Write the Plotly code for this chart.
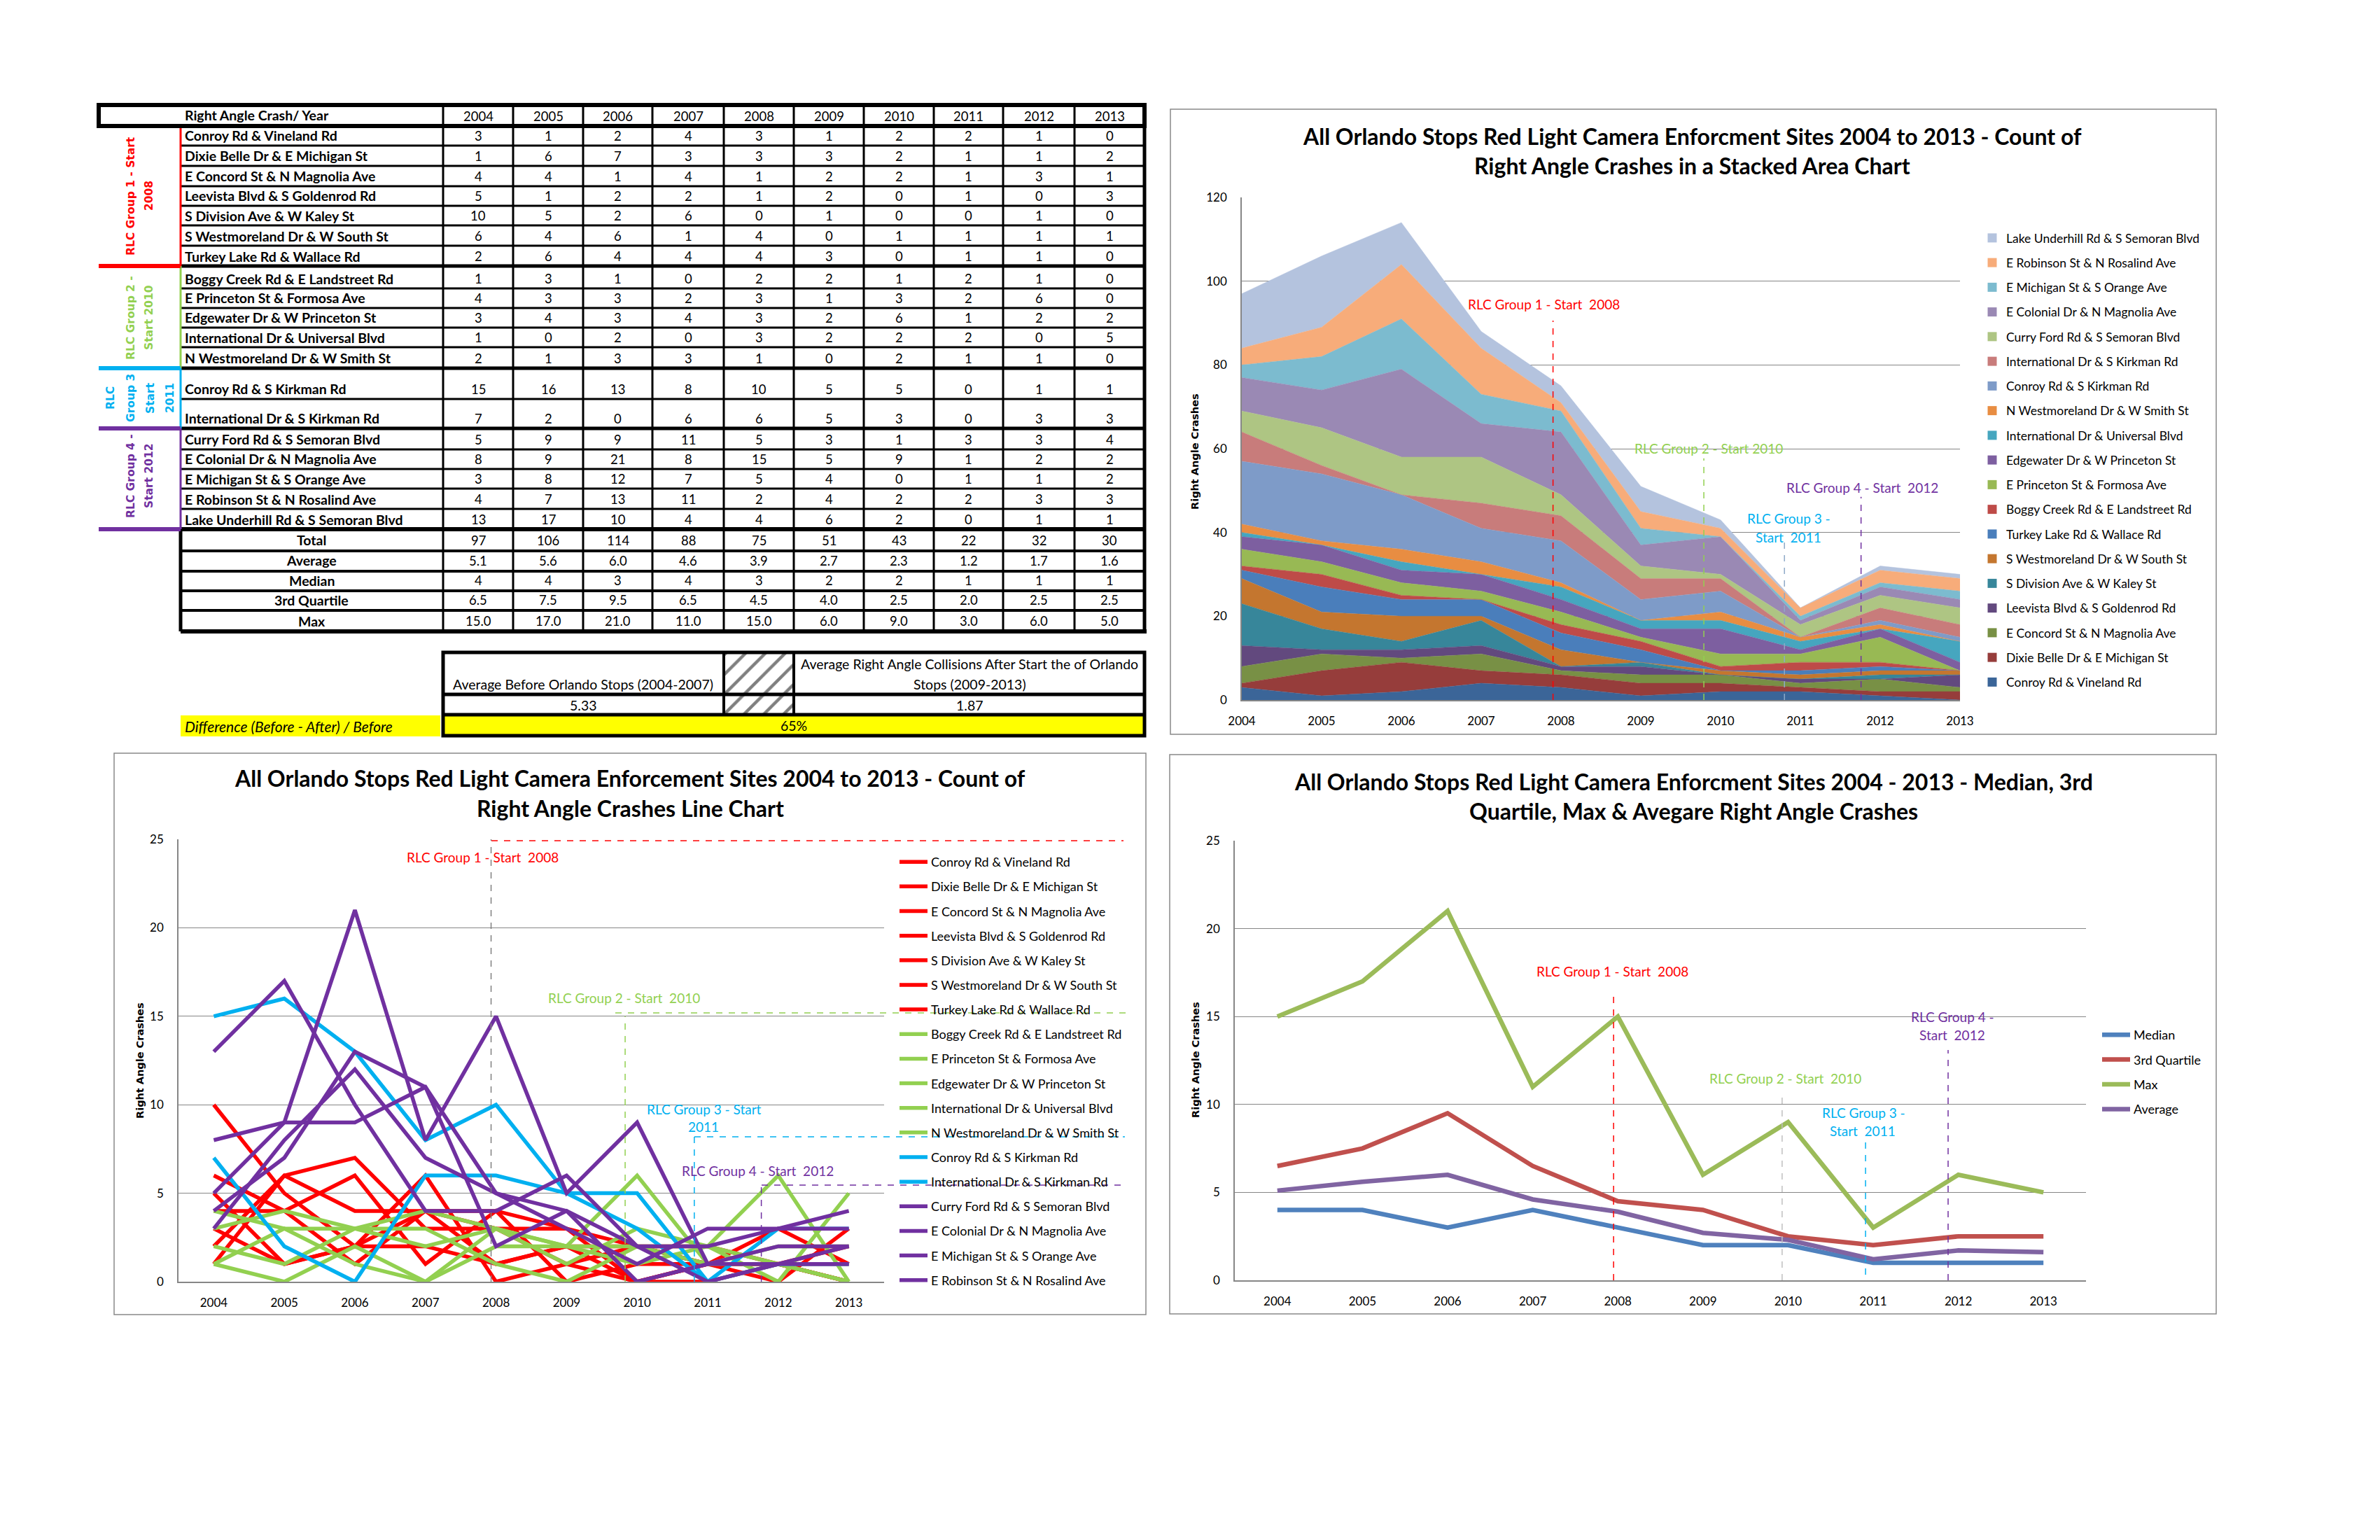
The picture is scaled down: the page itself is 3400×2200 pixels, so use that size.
import plotly.graph_objects as go

W, H = 3400, 2200

# ---------------- data ----------------
years = [2004, 2005, 2006, 2007, 2008, 2009, 2010, 2011, 2012, 2013]

conroy_vineland = [3, 1, 2, 4, 3, 1, 2, 2, 1, 0]
dixie_belle_michigan = [1, 6, 7, 3, 3, 3, 2, 1, 1, 2]
concord_magnolia = [4, 4, 1, 4, 1, 2, 2, 1, 3, 1]
leevista_goldenrod = [5, 1, 2, 2, 1, 2, 0, 1, 0, 3]
division_kaley = [10, 5, 2, 6, 0, 1, 0, 0, 1, 0]
s_westmoreland_south = [6, 4, 6, 1, 4, 0, 1, 1, 1, 1]
turkey_lake_wallace = [2, 6, 4, 4, 4, 3, 0, 1, 1, 0]
boggy_creek_landstreet = [1, 3, 1, 0, 2, 2, 1, 2, 1, 0]
princeton_formosa = [4, 3, 3, 2, 3, 1, 3, 2, 6, 0]
edgewater_princeton = [3, 4, 3, 4, 3, 2, 6, 1, 2, 2]
intl_universal = [1, 0, 2, 0, 3, 2, 2, 2, 0, 5]
n_westmoreland_smith = [2, 1, 3, 3, 1, 0, 2, 1, 1, 0]
conroy_kirkman = [15, 16, 13, 8, 10, 5, 5, 0, 1, 1]
intl_kirkman = [7, 2, 0, 6, 6, 5, 3, 0, 3, 3]
curry_ford_semoran = [5, 9, 9, 11, 5, 3, 1, 3, 3, 4]
colonial_magnolia = [8, 9, 21, 8, 15, 5, 9, 1, 2, 2]
michigan_orange = [3, 8, 12, 7, 5, 4, 0, 1, 1, 2]
robinson_rosalind = [4, 7, 13, 11, 2, 4, 2, 2, 3, 3]
lake_underhill_semoran = [13, 17, 10, 4, 4, 6, 2, 0, 1, 1]

site_names = [
    "Conroy Rd & Vineland Rd", "Dixie Belle Dr & E Michigan St", "E Concord St & N Magnolia Ave",
    "Leevista Blvd & S Goldenrod Rd", "S Division Ave & W Kaley St", "S Westmoreland Dr & W South St",
    "Turkey Lake Rd & Wallace Rd", "Boggy Creek Rd & E Landstreet Rd", "E Princeton St & Formosa Ave",
    "Edgewater Dr & W Princeton St", "International Dr & Universal Blvd", "N Westmoreland Dr & W Smith St",
    "Conroy Rd & S Kirkman Rd", "International Dr & S Kirkman Rd", "Curry Ford Rd & S Semoran Blvd",
    "E Colonial Dr & N Magnolia Ave", "E Michigan St & S Orange Ave", "E Robinson St & N Rosalind Ave",
    "Lake Underhill Rd & S Semoran Blvd",
]
site_values = [
    conroy_vineland, dixie_belle_michigan, concord_magnolia, leevista_goldenrod, division_kaley,
    s_westmoreland_south, turkey_lake_wallace, boggy_creek_landstreet, princeton_formosa,
    edgewater_princeton, intl_universal, n_westmoreland_smith, conroy_kirkman, intl_kirkman,
    curry_ford_semoran, colonial_magnolia, michigan_orange, robinson_rosalind, lake_underhill_semoran,
]
site_groups = [1] * 7 + [2] * 5 + [3] * 2 + [4] * 5

total_row = ["97", "106", "114", "88", "75", "51", "43", "22", "32", "30"]
average_row = ["5.1", "5.6", "6.0", "4.6", "3.9", "2.7", "2.3", "1.2", "1.7", "1.6"]
median_row = ["4", "4", "3", "4", "3", "2", "2", "1", "1", "1"]
q3_row = ["6.5", "7.5", "9.5", "6.5", "4.5", "4.0", "2.5", "2.0", "2.5", "2.5"]
max_row = ["15.0", "17.0", "21.0", "11.0", "15.0", "6.0", "9.0", "3.0", "6.0", "5.0"]
stat_labels = ["Total", "Average", "Median", "3rd Quartile", "Max"]
stat_rows = [total_row, average_row, median_row, q3_row, max_row]

before_label = "Average Before Orlando Stops (2004-2007)"
before_value = "5.33"
after_label = ["Average Right Angle Collisions After Start the of Orlando", "Stops (2009-2013)"]
after_value = "1.87"
difference_label = "Difference (Before - After) / Before"
difference_value = "65%"

group_label_lines = {
    1: ["RLC Group 1 - Start", "2008"],
    2: ["RLC Group 2 -", "Start 2010"],
    3: ["RLC", "Group 3", "Start", "2011"],
    4: ["RLC Group 4 -", "Start 2012"],
}
group_colors = {1: "#FF0000", 2: "#92D050", 3: "#00B0F0", 4: "#7030A0"}
area_colors = [
    "#3B6598", "#963D3B", "#789045", "#62497E", "#37869A", "#C4762F",
    "#4A7EBB", "#BE4B48", "#98B954", "#7D5FA0", "#46A6BF", "#E88D42",
    "#7E9BC8", "#C87C7B", "#AEC583", "#9A89B4", "#7CBBCF", "#F7AC7A", "#B4C3DE",
]
stat_series = [("Median", median_row, "#4F81BD"), ("3rd Quartile", q3_row, "#C0504D"),
               ("Max", max_row, "#9BBB59"), ("Average", average_row, "#8064A2")]

# ---------------- helpers ----------------
def px(x):
    return x / W

def py(y):
    return 1 - y / H

FONT = "Lato, Carlito, Calibri, sans-serif"
VFONT = "DejaVu Sans, Verdana, sans-serif"
GRID = "#868686"

fig = go.Figure()
shapes = []
ann = []

def hline(x0, x1, y, color="black", width=3, dash=None):
    shapes.append(dict(type="line", xref="paper", yref="paper", x0=px(x0), x1=px(x1), y0=py(y), y1=py(y),
                       line=dict(color=color, width=width, dash=dash)))

def vline(x, y0, y1, color="black", width=3, dash=None):
    shapes.append(dict(type="line", xref="paper", yref="paper", x0=px(x), x1=px(x), y0=py(y0), y1=py(y1),
                       line=dict(color=color, width=width, dash=dash)))

def rect(x0, y0, x1, y1, line="black", width=3, fill=None):
    shapes.append(dict(type="rect", xref="paper", yref="paper", x0=px(x0), x1=px(x1), y0=py(y1), y1=py(y0),
                       line=dict(color=line, width=width), fillcolor=fill))

def text(x, y, s, size=18, color="black", bold=False, italic=False, anchor="center", family=FONT, angle=0):
    s2 = s
    if bold:
        s2 = "<b>" + s2 + "</b>"
    if italic:
        s2 = "<i>" + s2 + "</i>"
    ann.append(dict(x=px(x), y=py(y), xref="paper", yref="paper", text=s2, showarrow=False,
                    xanchor=anchor, yanchor="middle", textangle=angle,
                    font=dict(family=family, size=size, color=color)))

# ---------------- table ----------------
row_bounds = [180, 208, 237, 266, 294, 322, 351, 380, 412, 440, 468, 496, 526, 570, 612, 642, 670, 698, 727, 756]
stat_bounds = [756, 787, 816, 844, 872, 902]
col_bounds = [633, 733, 833, 932, 1034, 1134, 1234, 1334, 1433, 1535, 1635]
col_centers = [(col_bounds[i] + col_bounds[i + 1]) / 2 for i in range(10)]
NAME_FS = 19.5
NUM_FS = 18.5

# header
text(262, 165, "Right Angle Crash/ Year", size=NAME_FS, bold=True, anchor="left")
for c, yv in zip(col_centers, years):
    text(c, 166, str(yv), size=NUM_FS)

for i, (name, vals) in enumerate(zip(site_names, site_values)):
    yb = row_bounds[i + 1]
    text(262, yb - 14, name, size=NAME_FS, bold=True, anchor="left")
    for c, v in zip(col_centers, vals):
        text(c, yb - 14, str(v), size=NUM_FS)

for j, (lab, vals) in enumerate(zip(stat_labels, stat_rows)):
    yb = stat_bounds[j + 1]
    text(445, yb - 15, lab, size=NAME_FS, bold=True)
    for c, v in zip(col_centers, vals):
        text(c, yb - 15, v, size=NUM_FS)

# row lines
for b in row_bounds[1:-1]:
    thick = b in (380, 526, 612)
    hline(258, 1635, b, width=5 if thick else 3)
for b in stat_bounds[1:-1]:
    hline(258, 1635, b, width=4)
hline(258, 1635, 756, width=6)
hline(258, 1638, 902, width=6)
for c in col_bounds[:-1]:
    vline(c, 150, 902, width=3)
vline(1635, 150, 902, width=5)
vline(258, 756, 902, width=5)

# group label column
group_spans = {1: (180, 380), 2: (380, 526), 3: (526, 612), 4: (612, 756)}
for g, (y0, y1) in group_spans.items():
    vline(258, y0, y1, color=group_colors[g], width=3)
hline(141, 258, 380, color=group_colors[1], width=6)
hline(141, 258, 526, color=group_colors[3], width=6)
hline(141, 258, 612, color=group_colors[4], width=6)
hline(141, 258, 756, color=group_colors[4], width=6)
group_line_x = {1: [187, 213], 2: [187, 213], 3: [158, 187, 215, 243], 4: [187, 213]}
group_centers = {1: 280, 2: 454, 3: 569, 4: 680}
for g, lines in group_label_lines.items():
    for xx, s in zip(group_line_x[g], lines):
        text(xx, group_centers[g], s, size=15.5, color=group_colors[g], bold=True, family=VFONT, angle=-90)

# header box
rect(141, 150, 1635, 180, width=6)

# summary mini table
MS = 19.5
rect(258, 1022, 629, 1052, line="rgba(0,0,0,0)", width=0, fill="#FFFF00")
rect(633, 1021, 1635, 1051, line="rgba(0,0,0,0)", width=0, fill="#FFFF00")
rect(633, 932, 1635, 1051, width=5)
hline(633, 1635, 992, width=5)
hline(633, 1635, 1021, width=5)
vline(1034, 932, 1021, width=4)
vline(1134, 932, 1021, width=4)
text(833, 977, before_label, size=MS)
text(1385, 948, after_label[0], size=MS)
text(1385, 977, after_label[1], size=MS)
text(833, 1007, before_value, size=MS)
text(1385, 1007, after_value, size=MS)
text(262, 1037, difference_label, size=21, italic=True, anchor="left")
text(1134, 1036, difference_value, size=MS)

# hatched cell
fig.add_trace(go.Bar(x=[0], y=[1], width=[1], xaxis="x4", yaxis="y4", showlegend=False, hoverinfo="skip",
                     marker=dict(color="white", line=dict(width=0),
                                 pattern=dict(shape="/", fgcolor="black", bgcolor="white", size=20, solidity=0.22))))

# ---------------- chart frames ----------------
rect(1672, 156, 3166, 1049, line="#898989", width=1.5)
rect(163, 1076, 1637, 1878, line="#898989", width=1.5)
rect(1671, 1078, 3166, 1877, line="#898989", width=1.5)

# titles
TS = 32
text(2417, 195, "All Orlando Stops Red Light Camera Enforcment Sites 2004 to 2013 - Count of", size=TS, bold=True)
text(2417, 237, "Right Angle Crashes in a Stacked Area Chart", size=TS, bold=True)
text(900, 1111, "All Orlando Stops Red Light Camera Enforcement Sites 2004 to 2013 - Count of", size=TS, bold=True)
text(900, 1154, "Right Angle Crashes Line Chart", size=TS, bold=True)
text(2419, 1116, "All Orlando Stops Red Light Camera Enforcment Sites 2004 - 2013 - Median, 3rd", size=TS, bold=True)
text(2419, 1158, "Quartile, Max & Avegare Right Angle Crashes", size=TS, bold=True)

# y axis titles
text(1707, 645, "Right Angle Crashes", size=14.5, bold=True, family=VFONT, angle=-90)
text(200, 1515, "Right Angle Crashes", size=14.5, bold=True, family=VFONT, angle=-90)
text(1708, 1514, "Right Angle Crashes", size=14.5, bold=True, family=VFONT, angle=-90)

# ---------------- stacked area chart ----------------
for name, vals, col in zip(site_names, site_values, area_colors):
    fig.add_trace(go.Scatter(x=years, y=vals, mode="lines", stackgroup="one", name=name,
                             line=dict(width=0.5, color=col), fillcolor=col, showlegend=False,
                             xaxis="x", yaxis="y"))
for i in range(len(site_names) - 1, -1, -1):
    fig.add_trace(go.Scatter(x=[None], y=[None], mode="markers", name=site_names[i], legend="legend",
                             legendgroup="a%d" % i,
                             marker=dict(symbol="square", size=13, color=area_colors[i]),
                             xaxis="x", yaxis="y"))

def dshape(xref, yref, x, y0, y1, color, width=1.5):
    shapes.append(dict(type="line", xref=xref, yref=yref, x0=x, x1=x, y0=y0, y1=y1,
                       line=dict(color=color, width=width, dash="dash")))

AS = 19
dshape("x", "y", 2007.9, 0, 90.6, "#FF0000")
dshape("x", "y", 2009.79, 0, 57.7, "#92D050")
dshape("x", "y", 2010.8, 0, 37.9, "#8EA9C8")
dshape("x", "y", 2011.76, 0, 48.5, "#7030A0")
text(2205, 434, "RLC Group 1 - Start  2008", size=AS, color="#FF0000")
text(2441, 640, "RLC Group 2 - Start 2010", size=AS, color="#92D050")
text(2555, 740, "RLC Group 3 -", size=AS, color="#00B0F0")
text(2555, 767, "Start  2011", size=AS, color="#00B0F0")
text(2660, 696, "RLC Group 4 - Start  2012", size=AS, color="#7030A0")

# ---------------- line chart ----------------
for i, (name, vals, g) in enumerate(zip(site_names, site_values, site_groups)):
    fig.add_trace(go.Scatter(x=years, y=vals, mode="lines", name=name, legend="legend2",
                             legendgroup="l%d" % i, showlegend=(i < 18),
                             line=dict(color=group_colors[g], width=5.5),
                             xaxis="x2", yaxis="y2"))

dshape("x2", "y2", 2007.93, 0, 25, "#7F7F7F")
dshape("x2", "y2", 2009.83, 0, 15.0, "#92D050")
dshape("x2", "y2", 2010.81, 0, 8.19, "#00B0F0")
dshape("x2", "y2", 2011.76, 0, 5.46, "#7030A0")
hline(702, 1605, 1201, color="#FF0000", width=1.5, dash="dash")
hline(879, 1612, 1447, color="#92D050", width=1.5, dash="dash")
hline(992, 1607, 1624, color="#00B0F0", width=1.5, dash="dash")
hline(1088, 1607, 1693, color="#7030A0", width=1.5, dash="dash")
text(689, 1224, "RLC Group 1 - Start  2008", size=AS, color="#FF0000")
text(891, 1425, "RLC Group 2 - Start  2010", size=AS, color="#92D050")
text(1006, 1584, "RLC Group 3 - Start", size=AS, color="#00B0F0")
text(1005, 1609, "2011", size=AS, color="#00B0F0")
text(1082, 1672, "RLC Group 4 - Start  2012", size=AS, color="#7030A0")

# ---------------- stats chart ----------------
for k, (name, vals, col) in enumerate(stat_series):
    fig.add_trace(go.Scatter(x=years, y=[float(v) for v in vals], mode="lines", name=name, legend="legend3",
                             legendgroup="s%d" % k, line=dict(color=col, width=6.5),
                             xaxis="x3", yaxis="y3"))

dshape("x3", "y3", 2007.95, 0, 16.36, "#FF0000")
dshape("x3", "y3", 2009.93, 0, 10.47, "#BFBFBF")
dshape("x3", "y3", 2010.91, -0.4, 8.12, "#00B0F0")
dshape("x3", "y3", 2011.88, 0, 13.1, "#7030A0")
text(2303, 1387, "RLC Group 1 - Start  2008", size=AS, color="#FF0000")
text(2550, 1540, "RLC Group 2 - Start  2010", size=AS, color="#92D050")
text(2662, 1589, "RLC Group 3 -", size=AS, color="#00B0F0")
text(2661, 1615, "Start  2011", size=AS, color="#00B0F0")
text(2789, 1452, "RLC Group 4 -", size=AS, color="#7030A0")
text(2789, 1478, "Start  2012", size=AS, color="#7030A0")

# ---------------- axes ----------------
tickfont = dict(family=FONT, size=17, color="black")
common_x = dict(tickmode="array", tickvals=years, ticktext=[str(y) for y in years], showgrid=False,
                showline=True, linecolor=GRID, linewidth=1.5, tickfont=tickfont, ticks="",
                ticklabelstandoff=14, zeroline=False, fixedrange=True, automargin=False)
common_y = dict(showgrid=True, gridcolor=GRID, gridwidth=1, showline=True, linecolor=GRID, linewidth=1.5,
                tickfont=tickfont, ticks="", ticklabelstandoff=16, zeroline=False, fixedrange=True,
                automargin=False)

fig.update_layout(
    width=W, height=H, margin=dict(l=0, r=0, t=0, b=0, pad=0, autoexpand=False),
    paper_bgcolor="white", plot_bgcolor="white",
    xaxis=dict(common_x, domain=[px(1774), px(2800)], range=[2004, 2013], anchor="y"),
    yaxis=dict(common_y, domain=[py(1000), py(282)], range=[0, 120], dtick=20, anchor="x"),
    xaxis2=dict(common_x, domain=[px(255), px(1263)], range=[2003.5, 2013.5], anchor="y2"),
    yaxis2=dict(common_y, domain=[py(1831), py(1199)], range=[0, 25], dtick=5, anchor="x2"),
    xaxis3=dict(common_x, domain=[px(1764), px(2980)], range=[2003.5, 2013.5], anchor="y3"),
    yaxis3=dict(common_y, domain=[py(1829), py(1201)], range=[0, 25], dtick=5, anchor="x3"),
    xaxis4=dict(domain=[px(1036), px(1132)], range=[-0.5, 0.5], visible=False, fixedrange=True, anchor="y4"),
    yaxis4=dict(domain=[py(1019), py(934)], range=[0, 1], visible=False, fixedrange=True, anchor="x4"),
    legend=dict(x=px(2826), y=py(322), xanchor="left", yanchor="top", bgcolor="rgba(0,0,0,0)",
                font=dict(family=FONT, size=17.5, color="black"), tracegroupgap=9.5, itemwidth=30),
    legend2=dict(x=px(1280), y=py(1213), xanchor="left", yanchor="top", bgcolor="rgba(0,0,0,0)",
                 font=dict(family=FONT, size=18, color="black"), tracegroupgap=8.75, itemwidth=40),
    legend3=dict(x=px(2998), y=py(1460), xanchor="left", yanchor="top", bgcolor="rgba(0,0,0,0)",
                 font=dict(family=FONT, size=18, color="black"), tracegroupgap=9, itemwidth=40),
    shapes=shapes, annotations=ann, bargap=0,
)

fig.write_html("out.html", config={"displayModeBar": False},
               post_script="document.body.style.margin='0';document.body.style.padding='0';")
